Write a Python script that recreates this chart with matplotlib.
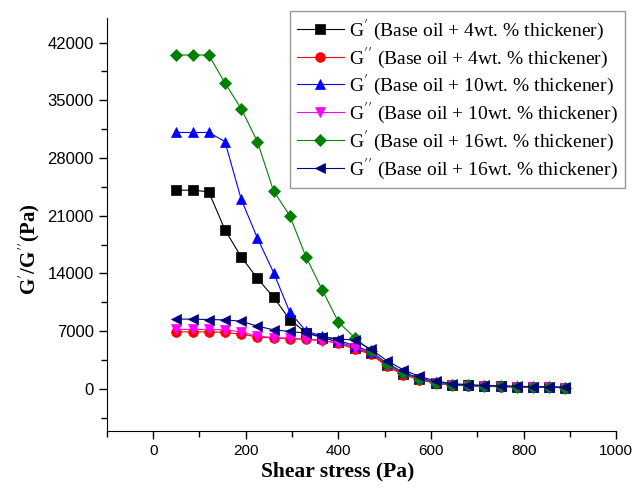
import numpy as np
import matplotlib
matplotlib.use("Agg")
import matplotlib.pyplot as plt
from matplotlib.ticker import MultipleLocator

plt.rcParams['mathtext.fontset'] = 'stix'

# shear stress sweep (Pa)
stress = [50, 85, 120, 155, 190, 225, 260, 295, 330, 365, 400, 435, 470,
          505, 540, 575, 610, 645, 680, 715, 750, 785, 820, 855, 890]

g1_4 = [24100, 24100, 23900, 19300, 16000, 13400, 11100, 8400, 6800, 6200, 5700, 5000, 4300,
        2900, 1800, 1200, 700, 500, 400, 300, 280, 250, 220, 180, 150]
g2_4 = [6900, 6900, 6900, 6850, 6600, 6300, 6150, 6050, 6000, 5900, 5500, 4800, 4200,
        2700, 1700, 1100, 650, 450, 350, 280, 250, 220, 200, 170, 130]
g1_10 = [31100, 31100, 31100, 30000, 23000, 18300, 14100, 9300, 7000, 6400, 5900, 5200, 4500,
         3100, 2000, 1300, 800, 550, 450, 350, 300, 280, 240, 200, 160]
g2_10 = [7200, 7200, 7200, 7150, 6900, 6400, 6200, 6150, 6000, 5800, 5600, 5000, 4400,
         2900, 1800, 1150, 700, 480, 380, 300, 270, 240, 210, 180, 140]
g1_16 = [40500, 40500, 40500, 37100, 34000, 30000, 24000, 21000, 16000, 12000, 8100, 6200, 4600,
         3000, 1900, 1200, 750, 500, 400, 320, 280, 250, 220, 180, 150]
g2_16 = [8450, 8450, 8400, 8350, 8200, 7600, 7150, 6950, 6750, 6300, 6050, 5900, 4800,
         3400, 2300, 1500, 950, 620, 500, 400, 360, 300, 260, 220, 180]

series = [
    (g1_4, 'black', 's', r"G$^{\prime}$ (Base oil + 4wt. % thickener)"),
    (g2_4, 'red', 'o', r"G$^{\prime\prime}$ (Base oil + 4wt. % thickener)"),
    (g1_10, 'blue', '^', r"G$^{\prime}$ (Base oil + 10wt. % thickener)"),
    (g2_10, 'magenta', 'v', r"G$^{\prime\prime}$ (Base oil + 10wt. % thickener)"),
    (g1_16, 'green', 'D', r"G$^{\prime}$ (Base oil + 16wt. % thickener)"),
    (g2_16, 'navy', '<', r"G$^{\prime\prime}$ (Base oil + 16wt. % thickener)"),
]

fig = plt.figure(figsize=(6.36, 4.98), dpi=100)
ax = fig.add_axes([0.168, 0.135, 0.801, 0.829])

for vals, col, mk, lab in series:
    ms = 6.5 if mk == 'D' else 7
    ax.plot(stress, vals, color=col, marker=mk, markersize=ms, linewidth=0.8,
            markeredgewidth=0.5, label=lab)

ax.set_xlim(-100, 1000)
ax.set_ylim(-5100, 45000)
ax.xaxis.set_major_locator(MultipleLocator(200))
ax.xaxis.set_minor_locator(MultipleLocator(100))
ax.yaxis.set_major_locator(MultipleLocator(7000))
ax.yaxis.set_minor_locator(MultipleLocator(3500))

for s in ['top', 'right']:
    ax.spines[s].set_visible(False)
ax.tick_params(which='major', direction='out', length=6, width=1,
               labelfontfamily='Liberation Sans')
ax.tick_params(axis='x', labelsize=11)
ax.tick_params(axis='y', labelsize=12)
ax.tick_params(which='minor', direction='out', length=4, width=1)

ax.set_xlabel("Shear stress (Pa)", fontsize=15.5, fontweight='bold',
              family='Liberation Serif')
ax.set_ylabel(r"G$^{\prime}$/G$^{\prime\prime}$(Pa)", fontsize=15, fontweight='bold',
              family='Liberation Serif')
ax.xaxis.set_label_coords(0.454, -0.075)
ax.yaxis.set_label_coords(-0.128, 0.44)

leg = fig.legend(loc='upper right', bbox_to_anchor=(0.998, 0.998), frameon=True,
                 fancybox=False, edgecolor='gray', prop={'family': 'Liberation Serif', 'size': 14},
                 labelspacing=0.13, handlelength=2.4, handletextpad=0.3, borderpad=0.35)
leg.get_frame().set_linewidth(1.0)

fig.savefig("out.png", dpi=100)
